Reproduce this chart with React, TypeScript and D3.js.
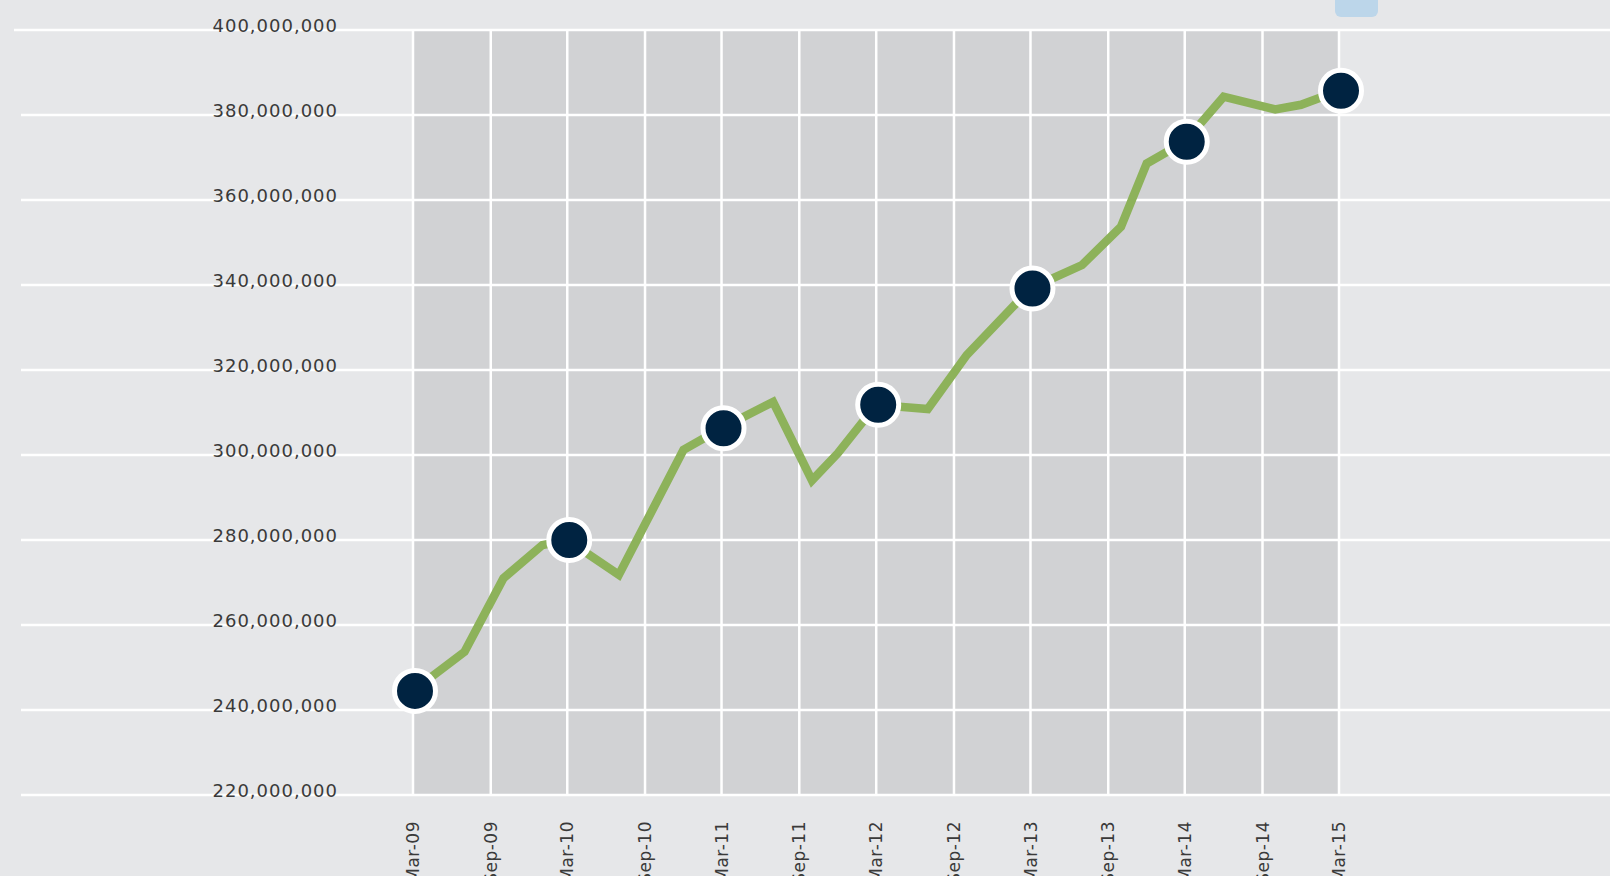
import React from 'react'
import { scaleLinear, scaleTime, timeParse, timeFormat, line, format, range } from 'd3'

// readings (month, value)
const months = [
  '2009-03', '2009-07', '2009-10', '2010-01', '2010-03', '2010-07', '2010-12', '2011-03',
  '2011-07', '2011-10', '2011-12', '2012-03', '2012-07', '2012-10', '2013-03', '2013-07',
  '2013-10', '2013-12', '2014-03', '2014-06', '2014-10', '2014-12', '2015-03',
]
const values = [
  244.5, 253.7, 271.0, 278.8, 280.0, 271.8, 301.2, 306.3,
  312.5, 294.0, 300.4, 311.8, 310.8, 323.5, 339.2, 344.7,
  353.7, 368.6, 373.7, 384.3, 381.3, 382.4, 385.7,
].map(v => v * 1e6)

// the big dots sit on every March
const markerMonths = ['2009-03', '2010-03', '2011-03', '2012-03', '2013-03', '2014-03', '2015-03']

const tickMonths = [
  '2009-03', '2009-09', '2010-03', '2010-09', '2011-03', '2011-09', '2012-03',
  '2012-09', '2013-03', '2013-09', '2014-03', '2014-09', '2015-03',
]
const yTicks = range(220e6, 400e6 + 1, 20e6)

const W = 1610
const H = 876
const parse = timeParse('%Y-%m')
const fmtX = timeFormat('%b-%y')
const fmtY = format(',')

export default function App() {
  const x = scaleTime().domain([parse('2009-03'), parse('2015-03')]).range([413, 1339])
  const y = scaleLinear().domain([220e6, 400e6]).range([795, 30])

  const pts = months.map((m, i) => ({ d: parse(m), v: values[i] }))
  const path = line().x(p => x(p.d)).y(p => y(p.v))(pts)
  const marks = pts.filter((p, i) => markerMonths.includes(months[i]))

  const x0 = x(parse(tickMonths[0]))
  const x1 = x(parse(tickMonths[tickMonths.length - 1]))

  return (
    <svg width={W} height={H} style={{ position: 'absolute', left: 0, top: 0, display: 'block' }}
      fontFamily="'DejaVu Sans', sans-serif">
      <rect width={W} height={H} fill="#e6e7e9" />
      <rect x={1335} y={-10} width={43} height={27} rx={6} fill="#bcd6ea" />

      {/* shaded plot band */}
      <rect x={x0} y={y(400e6)} width={x1 - x0} height={y(220e6) - y(400e6)} fill="#d1d2d4" />

      {tickMonths.map(m => (
        <line key={m} x1={x(parse(m))} x2={x(parse(m))} y1={y(400e6)} y2={y(220e6)}
          stroke="#fff" strokeWidth={2.5} />
      ))}
      {yTicks.map(t => (
        <line key={t} x1={t === 400e6 ? 14 : 21} x2={W} y1={y(t)} y2={y(t)}
          stroke="#fff" strokeWidth={2.5} />
      ))}

      {yTicks.map(t => (
        <text key={'l' + t} x={338} y={y(t) + 2} textAnchor="end" fontSize={18}
          letterSpacing={1} fill="#3a3a3a">{fmtY(t)}</text>
      ))}

      {tickMonths.map(m => (
        <text key={'t' + m} transform={`translate(${x(parse(m))},821) rotate(-90)`}
          dy="0.36em" textAnchor="end" fontSize={17} letterSpacing={0.5} fill="#3a3a3a">
          {fmtX(parse(m))}
        </text>
      ))}

      <path d={path} fill="none" stroke="#8db25a" strokeWidth={8.5} strokeLinejoin="miter" />

      {marks.map(p => (
        <circle key={+p.d} cx={x(p.d) + 2} cy={y(p.v)} r={20.5} fill="#002341"
          stroke="#fff" strokeWidth={5} />
      ))}
    </svg>
  )
}
